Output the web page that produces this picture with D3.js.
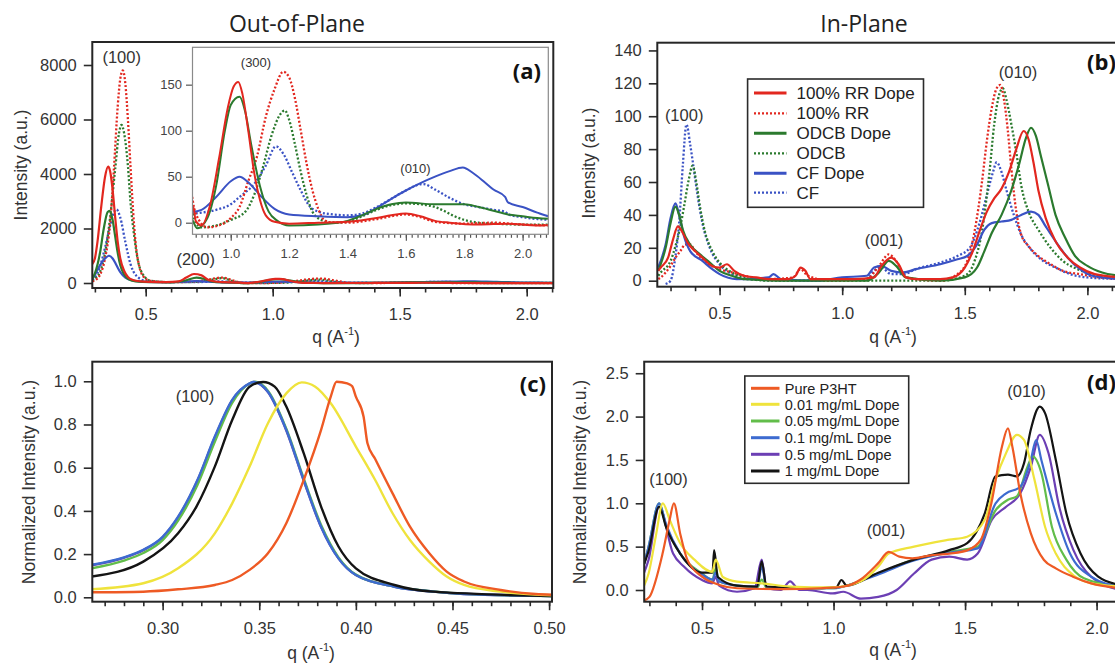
<!DOCTYPE html>
<html>
<head>
<meta charset="utf-8">
<script src="https://cdn.jsdelivr.net/npm/d3@7"></script>
<style>
  body { margin: 0; background: #fff; }
  svg { display: block; }
</style>
</head>
<body>
<svg id="chart" width="1115" height="664"></svg>
<script>
// ---------- Out-of-plane linecuts, [q (1/A), intensity (a.u.)] ----------
const oopRrDope = [[0.29,700],[0.30,900],[0.31,1500],[0.325,2800],[0.34,3900],[0.352,4270],[0.36,4100],[0.37,3400],[0.38,2400],[0.39,1500],[0.40,900],[0.415,450],[0.43,220],[0.45,110],[0.48,60],[0.52,40],[0.58,30],[0.63,60],[0.66,200],[0.69,330],[0.72,280],[0.75,100],[0.80,30],[0.865,12],[0.872,17],[0.88,2],[0.90,-3],[0.93,20],[0.96,70],[0.99,125],[1.01,148],[1.026,153],[1.04,140],[1.06,100],[1.08,55],[1.10,25],[1.12,8],[1.15,1],[1.20,-1],[1.30,0],[1.40,1],[1.50,5],[1.55,8],[1.60,10],[1.65,7],[1.70,2],[1.75,0],[1.85,-2],[1.95,-1],[2.05,-3],[2.11,-2]];
const oopRr = [[0.29,60],[0.30,100],[0.32,300],[0.34,900],[0.36,2200],[0.375,4200],[0.39,6500],[0.40,7500],[0.41,7800],[0.42,7300],[0.43,6000],[0.44,4300],[0.45,2700],[0.46,1500],[0.475,600],[0.49,250],[0.52,80],[0.60,30],[0.70,60],[0.76,150],[0.80,200],[0.84,100],[0.88,10],[0.92,-5],[0.96,-3],[1.00,5],[1.03,17],[1.06,45],[1.09,72],[1.12,115],[1.15,145],[1.18,164],[1.20,158],[1.22,135],[1.24,100],[1.26,64],[1.28,35],[1.30,15],[1.32,3],[1.35,0],[1.40,0],[1.50,4],[1.60,9],[1.65,6],[1.70,1],[1.80,-1],[1.90,0],[2.00,-2],[2.11,-3]];
const oopOdcbDope = [[0.29,150],[0.30,350],[0.32,1100],[0.335,2000],[0.35,2600],[0.358,2650],[0.37,2300],[0.38,1700],[0.39,1100],[0.40,650],[0.415,320],[0.43,150],[0.46,60],[0.52,30],[0.60,25],[0.66,100],[0.70,200],[0.73,150],[0.77,40],[0.85,10],[0.87,2],[0.885,-6],[0.92,5],[0.95,40],[0.98,100],[1.00,128],[1.03,137],[1.05,120],[1.07,85],[1.10,40],[1.13,12],[1.16,2],[1.20,-3],[1.30,-2],[1.40,2],[1.45,8],[1.50,15],[1.55,20],[1.60,22],[1.70,20],[1.80,20],[1.85,17],[1.90,13],[1.95,9],[2.00,7],[2.05,5],[2.11,4]];
const oopOdcb = [[0.29,80],[0.30,150],[0.32,400],[0.34,1100],[0.36,2400],[0.38,4200],[0.395,5500],[0.405,5800],[0.415,5500],[0.43,4300],[0.44,3000],[0.455,1700],[0.47,800],[0.49,300],[0.52,80],[0.60,30],[0.70,40],[0.76,120],[0.80,180],[0.84,80],[0.88,0],[0.90,-5],[0.95,-3],[1.00,3],[1.05,12],[1.08,30],[1.11,60],[1.14,95],[1.17,118],[1.185,122],[1.20,112],[1.22,85],[1.24,55],[1.26,30],[1.28,12],[1.31,3],[1.35,0],[1.40,1],[1.45,7],[1.50,14],[1.55,19],[1.60,21],[1.65,20],[1.70,17],[1.73,13],[1.76,8],[1.80,3],[1.85,0],[1.90,-1],[2.00,-2],[2.11,-2]];
const oopCfDope = [[0.29,150],[0.30,300],[0.32,650],[0.34,900],[0.355,1000],[0.37,900],[0.385,650],[0.40,400],[0.42,200],[0.45,90],[0.50,40],[0.60,30],[0.66,45],[0.70,70],[0.74,45],[0.80,25],[0.87,12],[0.90,14],[0.95,28],[1.00,45],[1.03,50],[1.06,44],[1.10,30],[1.15,15],[1.20,9],[1.30,7],[1.40,6],[1.45,8],[1.50,16],[1.55,26],[1.60,35],[1.65,43],[1.70,50],[1.75,56],[1.795,60],[1.83,54],[1.87,44],[1.90,36],[1.94,28],[1.95,22],[2.00,17],[2.05,11],[2.09,7],[2.11,6]];
const oopCf = [[0.29,120],[0.30,200],[0.32,600],[0.34,1300],[0.36,2100],[0.375,2600],[0.385,2700],[0.40,2400],[0.42,1500],[0.44,700],[0.46,300],[0.50,80],[0.60,30],[0.70,30],[0.78,60],[0.82,50],[0.87,10],[0.90,11],[0.95,14],[1.00,20],[1.03,28],[1.08,42],[1.12,62],[1.155,83],[1.18,75],[1.21,55],[1.24,35],[1.27,18],[1.30,12],[1.35,9],[1.40,8],[1.45,10],[1.50,17],[1.55,26],[1.60,35],[1.64,41],[1.66,42],[1.70,36],[1.75,27],[1.80,20],[1.85,17],[1.90,14],[1.94,12],[1.95,9],[2.00,6],[2.05,4],[2.11,3]];

// ---------- In-plane linecuts ----------
const ipRrDope = [[0.25,6],[0.26,8],[0.29,14],[0.31,25],[0.33,33],[0.35,29],[0.37,23],[0.40,18],[0.43,14],[0.47,9],[0.50,8],[0.53,10],[0.56,6],[0.60,3],[0.65,2],[0.70,1],[0.78,1],[0.81,3],[0.83,8],[0.85,6],[0.87,1],[0.95,1],[1.05,1],[1.13,2],[1.16,9],[1.20,14],[1.23,10],[1.26,2],[1.30,1],[1.40,1],[1.45,2],[1.50,8],[1.53,17],[1.56,30],[1.59,42],[1.62,50],[1.65,56],[1.68,66],[1.71,80],[1.74,91],[1.76,86],[1.78,72],[1.80,55],[1.83,38],[1.87,24],[1.92,14],[1.97,8],[2.03,4],[2.14,2]];
const ipRr = [[0.25,1],[0.26,2],[0.28,5],[0.30,9],[0.32,14],[0.34,18],[0.36,22],[0.38,22],[0.40,18],[0.43,13],[0.47,9],[0.50,7],[0.55,5],[0.60,3],[0.70,1],[0.80,2],[0.83,7],[0.86,3],[0.95,0],[1.10,1],[1.15,9],[1.19,16],[1.22,12],[1.26,2],[1.40,0],[1.47,4],[1.51,12],[1.54,30],[1.57,60],[1.59,85],[1.61,105],[1.63,117],[1.645,119],[1.66,110],[1.675,92],[1.69,68],[1.71,42],[1.73,28],[1.76,21],[1.80,15],[1.85,10],[1.90,6],[1.97,4],[2.05,2],[2.14,1]];
const ipOdcbDope = [[0.25,6],[0.26,10],[0.28,20],[0.30,35],[0.32,45],[0.335,40],[0.35,31],[0.38,22],[0.42,16],[0.46,11],[0.50,6],[0.55,3],[0.60,1],[0.80,0],[1.10,0],[1.15,5],[1.19,12],[1.22,9],[1.26,2],[1.40,0],[1.50,2],[1.55,8],[1.58,18],[1.61,29],[1.65,40],[1.69,55],[1.72,70],[1.75,87],[1.77,93],[1.79,88],[1.81,76],[1.84,58],[1.87,40],[1.91,26],[1.95,15],[2.00,9],[2.06,5],[2.14,3]];
const ipOdcb = [[0.25,3],[0.26,5],[0.30,12],[0.32,21],[0.34,33],[0.355,45],[0.375,62],[0.39,70],[0.405,60],[0.42,45],[0.44,30],[0.47,18],[0.50,11],[0.55,5],[0.60,2],[0.70,0],[1.00,0],[1.40,0],[1.50,3],[1.54,12],[1.57,30],[1.60,65],[1.62,95],[1.64,113],[1.655,117],[1.67,110],[1.69,95],[1.71,78],[1.73,58],[1.76,42],[1.80,31],[1.85,20],[1.90,12],[1.96,7],[2.05,3],[2.14,2]];
const ipCfDope = [[0.25,8],[0.26,12],[0.28,22],[0.30,38],[0.32,47],[0.335,40],[0.355,27],[0.38,18],[0.43,12],[0.47,7],[0.50,4],[0.57,1],[0.70,2],[0.72,4],[0.75,1],[0.90,0],[1.00,2],[1.10,3],[1.13,8],[1.16,9],[1.20,6],[1.25,5],[1.30,7],[1.40,10],[1.47,13],[1.51,15],[1.55,22],[1.58,31],[1.61,35],[1.65,36],[1.69,37],[1.73,40],[1.77,42],[1.80,40],[1.83,33],[1.87,24],[1.92,14],[1.97,7],[2.02,3],[2.14,1]];
const ipCf = [[0.28,-2],[0.30,0],[0.32,15],[0.335,35],[0.35,70],[0.365,95],[0.38,83],[0.39,73],[0.41,52],[0.43,35],[0.46,20],[0.50,10],[0.55,4],[0.60,1],[0.80,0],[1.10,1],[1.13,6],[1.16,8],[1.20,4],[1.25,4],[1.30,7],[1.40,11],[1.47,15],[1.52,20],[1.56,35],[1.59,52],[1.615,66],[1.63,72],[1.65,66],[1.67,55],[1.70,40],[1.73,28],[1.77,19],[1.82,12],[1.87,8],[1.93,4],[2.00,2],[2.14,1]];

// ---------- (100) peak, normalized, by dopant concentration ----------
const p100Pure = [[0.263,0.023],[0.29,0.026],[0.308,0.037],[0.327,0.057],[0.336,0.08],[0.345,0.127],[0.3545,0.204],[0.364,0.343],[0.373,0.543],[0.382,0.775],[0.387,0.929],[0.39,0.998],[0.3955,0.99],[0.398,0.978],[0.40,0.929],[0.404,0.836],[0.406,0.713],[0.41,0.64],[0.419,0.481],[0.428,0.327],[0.438,0.204],[0.447,0.119],[0.456,0.073],[0.475,0.034],[0.493,0.015],[0.502,0.012]];
const p100D001 = [[0.263,0.037],[0.29,0.065],[0.308,0.134],[0.327,0.296],[0.336,0.435],[0.345,0.605],[0.3545,0.806],[0.364,0.944],[0.372,0.995],[0.379,0.975],[0.387,0.898],[0.40,0.698],[0.41,0.543],[0.419,0.389],[0.428,0.265],[0.438,0.165],[0.447,0.096],[0.456,0.057],[0.475,0.026],[0.502,0.009]];
const p100D005 = [[0.263,0.134],[0.28,0.17],[0.29,0.205],[0.30,0.265],[0.308,0.355],[0.318,0.52],[0.327,0.72],[0.336,0.9],[0.345,0.99],[0.348,0.998],[0.355,0.95],[0.364,0.78],[0.373,0.55],[0.382,0.335],[0.391,0.185],[0.40,0.105],[0.42,0.05],[0.44,0.027],[0.456,0.016],[0.502,0.006]];
const p100D01 = [[0.263,0.15],[0.28,0.185],[0.29,0.22],[0.30,0.28],[0.308,0.373],[0.318,0.543],[0.327,0.744],[0.336,0.914],[0.345,0.99],[0.347,0.997],[0.3545,0.952],[0.364,0.775],[0.373,0.543],[0.382,0.327],[0.391,0.18],[0.40,0.103],[0.42,0.049],[0.44,0.026],[0.456,0.015],[0.502,0.006]];
const p100D05 = [[0.263,0.148],[0.28,0.183],[0.29,0.218],[0.30,0.278],[0.308,0.37],[0.318,0.54],[0.327,0.74],[0.336,0.912],[0.345,0.99],[0.347,0.997],[0.3545,0.95],[0.364,0.772],[0.373,0.54],[0.382,0.325],[0.391,0.18],[0.40,0.103],[0.42,0.049],[0.44,0.026],[0.456,0.015],[0.502,0.006]];
const p100D1 = [[0.263,0.096],[0.29,0.165],[0.308,0.296],[0.3175,0.42],[0.327,0.605],[0.336,0.821],[0.345,0.975],[0.352,0.997],[0.358,0.975],[0.364,0.883],[0.373,0.667],[0.382,0.42],[0.391,0.235],[0.40,0.134],[0.42,0.057],[0.44,0.026],[0.502,0.006]];

// ---------- Full in-plane profiles, normalized ----------
const fullPure = [[0.28,-0.12],[0.30,-0.08],[0.35,0.42],[0.377,0.81],[0.393,1.0],[0.417,0.65],[0.444,0.35],[0.50,0.154],[0.566,0.058],[0.633,0.02],[0.80,0.01],[0.95,0.02],[1.04,0.04],[1.10,0.115],[1.17,0.31],[1.21,0.44],[1.25,0.385],[1.30,0.365],[1.37,0.40],[1.44,0.42],[1.51,0.46],[1.56,0.58],[1.60,1.0],[1.64,1.65],[1.663,1.865],[1.68,1.65],[1.71,1.115],[1.75,0.654],[1.80,0.346],[1.845,0.25],[1.91,0.154],[1.98,0.077],[2.09,0.02]];
const fullD001 = [[0.28,0.05],[0.297,0.19],[0.324,0.615],[0.351,1.0],[0.377,0.81],[0.417,0.54],[0.471,0.35],[0.539,0.21],[0.552,0.35],[0.579,0.15],[0.633,0.096],[0.727,0.077],[0.835,0.04],[0.997,0.03],[1.104,0.1],[1.17,0.27],[1.21,0.42],[1.306,0.5],[1.44,0.58],[1.508,0.615],[1.575,0.81],[1.616,1.27],[1.656,1.58],[1.697,1.79],[1.724,1.73],[1.764,1.27],[1.804,0.73],[1.845,0.42],[1.912,0.17],[1.979,0.077],[2.09,0.04]];
const fullD005 = [[0.28,0.3],[0.297,0.5],[0.337,1.0],[0.364,0.73],[0.417,0.42],[0.50,0.19],[0.54,0.12],[0.552,0.25],[0.565,0.1],[0.633,0.05],[0.71,0.03],[0.727,0.12],[0.745,0.03],[0.835,0.02],[1.0,0.02],[1.037,0.04],[1.17,0.19],[1.306,0.35],[1.44,0.44],[1.548,0.5],[1.616,0.92],[1.663,1.04],[1.697,1.08],[1.737,1.42],[1.757,1.54],[1.79,1.35],[1.83,0.73],[1.885,0.35],[1.952,0.135],[2.09,0.04]];
const fullD01 = [[0.28,0.3],[0.297,0.5],[0.337,1.0],[0.364,0.75],[0.417,0.42],[0.50,0.18],[0.54,0.12],[0.552,0.2],[0.565,0.1],[0.633,0.05],[0.71,0.04],[0.727,0.27],[0.745,0.04],[0.835,0.02],[1.0,0.02],[1.037,0.04],[1.17,0.18],[1.306,0.34],[1.44,0.43],[1.548,0.48],[1.616,1.0],[1.656,1.115],[1.71,1.19],[1.75,1.5],[1.77,1.73],[1.79,1.5],[1.845,0.885],[1.899,0.42],[1.979,0.154],[2.09,0.04]];
const fullD05 = [[0.28,0.2],[0.297,0.35],[0.337,0.96],[0.39,0.42],[0.431,0.27],[0.50,0.115],[0.539,0.077],[0.552,0.154],[0.565,0.05],[0.633,-0.02],[0.70,0.02],[0.727,0.35],[0.745,0.02],[0.80,0.0],[0.835,0.1],[0.87,0.0],[0.90,0.0],[0.997,-0.04],[1.037,-0.02],[1.104,-0.1],[1.17,-0.08],[1.24,0.0],[1.306,0.19],[1.373,0.35],[1.44,0.385],[1.508,0.35],[1.548,0.42],[1.602,0.81],[1.656,0.96],[1.71,1.115],[1.75,1.42],[1.784,1.79],[1.817,1.58],[1.858,0.96],[1.912,0.46],[1.979,0.154],[2.09,0.0]];
const fullD1 = [[0.28,0.3],[0.297,0.45],[0.337,0.96],[0.364,0.72],[0.417,0.42],[0.50,0.2],[0.54,0.2],[0.546,0.46],[0.56,0.15],[0.633,0.05],[0.71,0.04],[0.727,0.33],[0.745,0.04],[0.90,0.02],[1.01,0.03],[1.03,0.115],[1.05,0.05],[1.17,0.2],[1.306,0.35],[1.44,0.46],[1.508,0.54],[1.575,0.885],[1.616,1.31],[1.663,1.33],[1.697,1.31],[1.724,1.46],[1.75,1.85],[1.784,2.115],[1.804,2.04],[1.845,1.5],[1.885,0.885],[1.939,0.42],[2.006,0.154],[2.09,0.058]];

// ---------- Labels and ticks ----------
const legendSolvent = ["100% RR Dope", "100% RR", "ODCB Dope", "ODCB", "CF Dope", "CF"];
const legendDoping = ["Pure P3HT", "0.01 mg/mL Dope", "0.05 mg/mL Dope", "0.1 mg/mL Dope", "0.5 mg/mL Dope", "1 mg/mL Dope"];
const ticksAy = [0, 2000, 4000, 6000, 8000];
const ticksInsetY = [0, 50, 100, 150];
const ticksInsetX = [1.0, 1.2, 1.4, 1.6, 1.8, 2.0];
const ticksBy = [0, 20, 40, 60, 80, 100, 120, 140];
const ticksQ = [0.5, 1.0, 1.5, 2.0];
const ticksCx = [0.30, 0.35, 0.40, 0.45, 0.50];
const ticksCy = [0.0, 0.2, 0.4, 0.6, 0.8, 1.0];
const ticksDy = [0.0, 0.5, 1.0, 1.5, 2.0, 2.5];

// ---------- Styling ----------
const RED = "#e2271f", GREEN = "#2b7a2e", BLUE = "#3a52c4";
const C_PURE = "#ee5a24", C_001 = "#efe33c", C_005 = "#62bd4a", C_01 = "#3d6bd0", C_05 = "#6c3fb4", C_1 = "#141414";
const TICK_FONT = "'Liberation Sans', Arial, sans-serif";
const TEXT_COL = "#333";

const svg = d3.select("#chart");
const defs = svg.append("defs");
let clipCount = 0;

function makeFrame(cfg) {
  const x = d3.scaleLinear().domain(cfg.xDomain).range([cfg.left, cfg.right]);
  const y = d3.scaleLinear().domain(cfg.yDomain).range([cfg.bottom, cfg.top]);
  const g = svg.append("g");
  if (cfg.fill) {
    g.append("rect").attr("x", cfg.left).attr("y", cfg.top)
      .attr("width", cfg.right - cfg.left).attr("height", cfg.bottom - cfg.top)
      .attr("fill", "#fff");
  }
  const id = "clip" + (clipCount++);
  defs.append("clipPath").attr("id", id).append("rect")
    .attr("x", cfg.left).attr("y", cfg.top)
    .attr("width", cfg.right - cfg.left).attr("height", cfg.bottom - cfg.top);

  const fs = cfg.fontSize || 16.5;
  const axCol = cfg.axisColor || "#2b2b2b";
  const styleAxis = sel => {
    sel.select(".domain").remove();
    sel.selectAll(".tick line").attr("stroke", axCol).attr("stroke-width", cfg.tickWidth || 1.6);
    sel.selectAll(".tick text").attr("fill", cfg.textColor || TEXT_COL)
      .style("font-family", TICK_FONT).style("font-size", fs + "px");
  };
  // minor x ticks
  if (cfg.xMinor) {
    g.append("g").attr("transform", `translate(0,${cfg.bottom})`)
      .call(d3.axisBottom(x).tickValues(cfg.xMinor).tickSize(cfg.minorLen).tickFormat(""))
      .call(styleAxis);
  }
  g.append("g").attr("transform", `translate(0,${cfg.bottom})`)
    .call(d3.axisBottom(x).tickValues(cfg.xTicks).tickSize(cfg.majorLen)
      .tickPadding(cfg.xPad).tickFormat(d3.format(cfg.xFmt)))
    .call(styleAxis);
  g.append("g").attr("transform", `translate(${cfg.left},0)`)
    .call(d3.axisLeft(y).tickValues(cfg.yTicks).tickSize(cfg.majorLen)
      .tickPadding(cfg.yPad).tickFormat(d3.format(cfg.yFmt)))
    .call(styleAxis);

  const plot = g.append("g").attr("clip-path", `url(#${id})`);
  const frame = () => g.append("rect").attr("x", cfg.left).attr("y", cfg.top)
    .attr("width", cfg.right - cfg.left).attr("height", cfg.bottom - cfg.top)
    .attr("fill", "none").attr("stroke", cfg.frameColor || "#262626")
    .attr("stroke-width", cfg.frameWidth || 2);
  return { x, y, g, plot, frame };
}

function drawSeries(p, list, width) {
  const line = d3.line().x(d => p.x(d[0])).y(d => p.y(d[1])).curve(d3.curveMonotoneX);
  list.forEach(s => {
    p.plot.append("path").datum(s.data).attr("d", line)
      .attr("fill", "none").attr("stroke", s.color)
      .attr("stroke-width", s.dotted ? 2.3 : width)
      .attr("stroke-dasharray", s.dotted ? "2,2" : null)
      .attr("stroke-linejoin", "round");
  });
}

function label(p, q, v, text, size) {
  p.g.append("text").attr("x", p.x(q)).attr("y", p.y(v))
    .attr("text-anchor", "middle").attr("fill", TEXT_COL)
    .style("font-family", TICK_FONT).style("font-size", (size || 16.5) + "px")
    .text(text);
}

function panelTag(xp, yp, text, anchor) {
  svg.append("text").attr("x", xp).attr("y", yp).attr("text-anchor", anchor || "end")
    .attr("fill", "#111").style("font-family", "'Open Sans', sans-serif")
    .style("font-weight", 700).style("font-size", "22px").text(text);
}

function yTitle(xp, yp, text) {
  svg.append("text").attr("transform", `translate(${xp},${yp}) rotate(-90)`)
    .attr("text-anchor", "middle").attr("dy", "0.35em").attr("fill", TEXT_COL)
    .style("font-family", TICK_FONT).style("font-size", "17.5px").text(text);
}

function qTitle(xp, yp) {
  const t = svg.append("text").attr("x", xp).attr("y", yp).attr("text-anchor", "middle")
    .attr("fill", TEXT_COL).style("font-family", TICK_FONT).style("font-size", "17.5px");
  t.append("tspan").text("q (A");
  t.append("tspan").attr("dy", -8).style("font-size", "11px").text("-1");
  t.append("tspan").attr("dy", 8).text(")");
}

function legendBox(x0, y0, w, h, rows, items, fs, lineX0, lineX1, textX) {
  svg.append("rect").attr("x", x0).attr("y", y0).attr("width", w).attr("height", h)
    .attr("fill", "#fff").attr("stroke", "#2b2b2b").attr("stroke-width", 1.6);
  items.forEach((it, i) => {
    svg.append("line").attr("x1", lineX0).attr("x2", lineX1).attr("y1", rows[i]).attr("y2", rows[i])
      .attr("stroke", it.color).attr("stroke-width", it.dotted ? 2.3 : 3)
      .attr("stroke-dasharray", it.dotted ? "2,2" : null);
    svg.append("text").attr("x", textX).attr("y", rows[i]).attr("dy", "0.36em")
      .attr("fill", "#222").style("font-family", TICK_FONT).style("font-size", fs + "px")
      .text(it.name);
  });
}

// Column titles
const titleStyle = s => s.attr("text-anchor", "middle").attr("fill", "#222")
  .style("font-family", "'Open Sans', sans-serif").style("font-size", "23px");
svg.append("text").attr("x", 297).attr("y", 32).call(titleStyle).text("Out-of-Plane");
svg.append("text").attr("x", 864).attr("y", 32).call(titleStyle).text("In-Plane");

const seriesOop = [
  { data: oopCf, color: BLUE, dotted: true },
  { data: oopOdcb, color: GREEN, dotted: true },
  { data: oopRr, color: RED, dotted: true },
  { data: oopCfDope, color: BLUE },
  { data: oopOdcbDope, color: GREEN },
  { data: oopRrDope, color: RED }
];

// ---- (a) out-of-plane ----
const pa = makeFrame({
  left: 92.3, right: 553.3, top: 42, bottom: 288,
  xDomain: [0.2898, 2.1047], yDomain: [-183.5, 8844],
  xTicks: ticksQ, xMinor: d3.range(0.3, 2.101, 0.1), majorLen: 8.5, minorLen: 4.5,
  xPad: 12, yPad: 7, xFmt: ".1f", yFmt: "d", yTicks: ticksAy
});
drawSeries(pa, seriesOop, 2.2);
pa.frame();
label(pa, 0.4055, 8073, "(100)");
label(pa, 0.697, 660, "(200)");

// inset of (a)
const pi = makeFrame({
  left: 192.5, right: 548.3, top: 47.3, bottom: 234.3, fill: true,
  xDomain: [0.869, 2.088], yDomain: [-12.6, 190.6],
  xTicks: ticksInsetX, xMinor: d3.range(0.88, 2.081, 0.02), majorLen: 6.5, minorLen: 3.5,
  xPad: 8, yPad: 4, xFmt: ".1f", yFmt: "d", yTicks: ticksInsetY,
  fontSize: 13, textColor: "#444", frameColor: "#8a8a8a", frameWidth: 1.2,
  axisColor: "#555", tickWidth: 1.2
});
drawSeries(pi, seriesOop, 2.0);
pi.frame();
label(pi, 1.0865, 168.7, "(300)", 13);
label(pi, 1.633, 54, "(010)", 13);
panelTag(541, 79, "(a)");
yTitle(21, 165, "Intensity (a.u.)");
qTitle(336, 343);

// ---- (b) in-plane ----
const pb = makeFrame({
  left: 657.3, right: 1120, top: 42.7, bottom: 286.7,
  xDomain: [0.246, 2.133], yDomain: [-3.65, 144.7],
  xTicks: ticksQ, xMinor: d3.range(0.3, 2.101, 0.1), majorLen: 8.5, minorLen: 4.5,
  xPad: 12, yPad: 7, xFmt: ".1f", yFmt: "d", yTicks: ticksBy
});
drawSeries(pb, [
  { data: ipCf, color: BLUE, dotted: true },
  { data: ipOdcb, color: GREEN, dotted: true },
  { data: ipRr, color: RED, dotted: true },
  { data: ipCfDope, color: BLUE },
  { data: ipOdcbDope, color: GREEN },
  { data: ipRrDope, color: RED }
], 2.2);
pb.frame();
label(pb, 0.3555, 97, "(100)");
label(pb, 1.171, 21, "(001)");
label(pb, 1.717, 123, "(010)");
panelTag(1087, 70, "(b)", "start");
yTitle(589, 163, "Intensity (a.u.)");
qTitle(893, 343);
legendBox(747.6, 79, 175.9, 128.3, [93, 113.3, 133.3, 153.3, 173.3, 192.7],
  legendSolvent.map((n, i) => ({ name: n, color: [RED, RED, GREEN, GREEN, BLUE, BLUE][i], dotted: i % 2 === 1 })),
  17, 754, 786.5, 796.5);

// ---- (c) (100) peak ----
const pc = makeFrame({
  left: 92.3, right: 552, top: 361.7, bottom: 601.7,
  xDomain: [0.2636, 0.5015], yDomain: [-0.0204, 1.0907],
  xTicks: ticksCx, xMinor: d3.range(0.27, 0.5001, 0.01), majorLen: 8.5, minorLen: 4.5,
  xPad: 12, yPad: 7, xFmt: ".2f", yFmt: ".1f", yTicks: ticksCy
});
drawSeries(pc, [
  { data: p100D05, color: C_05 },
  { data: p100D005, color: C_005 },
  { data: p100D01, color: C_01 },
  { data: p100D1, color: C_1 },
  { data: p100D001, color: C_001 },
  { data: p100Pure, color: C_PURE }
], 2.4);
pc.frame();
label(pc, 0.3167, 0.906, "(100)");
panelTag(546, 392, "(c)");
yTitle(29, 482, "Normalized Intensity (a.u.)");
qTitle(311, 659);

// ---- (d) full profiles ----
const pd = makeFrame({
  left: 644.2, right: 1120, top: 361.7, bottom: 601.7,
  xDomain: [0.2802, 2.089], yDomain: [-0.135, 2.633],
  xTicks: ticksQ, xMinor: d3.range(0.3, 2.101, 0.1), majorLen: 8.5, minorLen: 4.5,
  xPad: 12, yPad: 7, xFmt: ".1f", yFmt: ".1f", yTicks: ticksDy
});
drawSeries(pd, [
  { data: fullD05, color: C_05 },
  { data: fullD005, color: C_005 },
  { data: fullD01, color: C_01 },
  { data: fullD1, color: C_1 },
  { data: fullD001, color: C_001 },
  { data: fullPure, color: C_PURE }
], 2.2);
pd.frame();
label(pd, 0.3726, 1.211, "(100)");
label(pd, 1.1996, 0.623, "(001)");
label(pd, 1.734, 2.226, "(010)");
panelTag(1087, 390, "(d)", "start");
yTitle(580, 482, "Normalized Intensity (a.u.)");
qTitle(893, 656);
legendBox(744.8, 376, 163.9, 107.3, [388.3, 404.3, 421, 437.7, 454.3, 471],
  legendDoping.map((n, i) => ({ name: n, color: [C_PURE, C_001, C_005, C_01, C_05, C_1][i] })),
  14.5, 751, 779.5, 784.8);
</script>
</body>
</html>
